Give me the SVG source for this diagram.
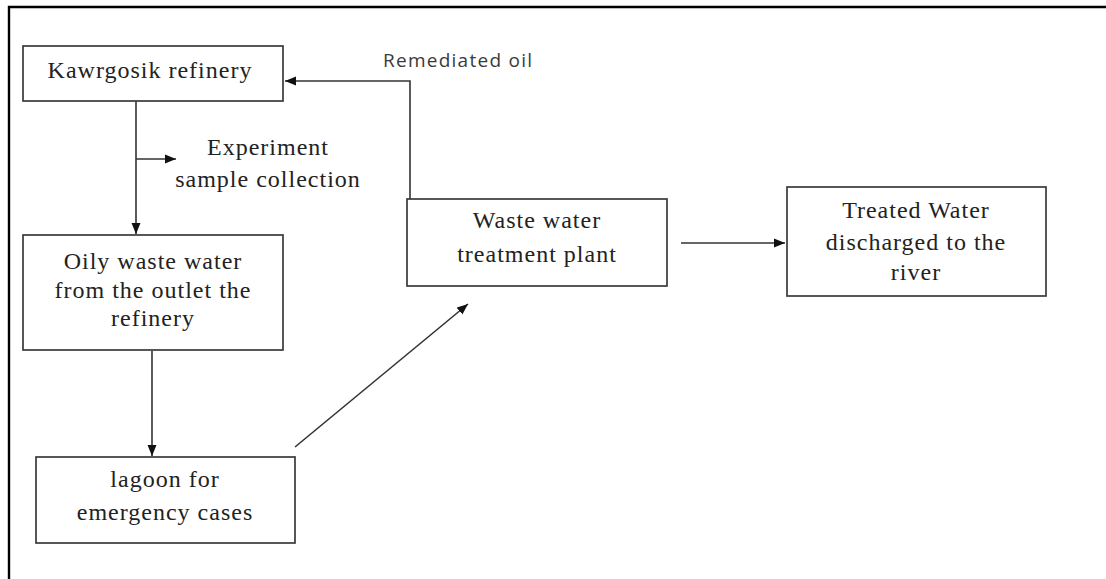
<svg xmlns="http://www.w3.org/2000/svg" width="1106" height="579" viewBox="0 0 1106 579">
<defs>
<style>
.box{fill:#fff;stroke:#3a3a3a;stroke-width:1.7}
.lbl{font-family:"Liberation Serif","Times New Roman",serif;font-size:24px;fill:#222;text-anchor:middle;letter-spacing:1px}
.con{fill:none;stroke:#333;stroke-width:1.6}
.note{font-family:"Open Sans","Liberation Sans",Arial,sans-serif;font-size:19px;fill:#3a3a3a}
</style>
<marker id="ah" viewBox="0 0 11 10" refX="11" refY="5" markerWidth="11" markerHeight="10" markerUnits="userSpaceOnUse" orient="auto">
<path d="M0,0.5 L11,5 L0,9.5 Z" fill="#111"/>
</marker>
</defs>
<rect width="1106" height="579" fill="#fff"/>
<g id="frame">
<path d="M9,579 L9,7 L1106,7" fill="none" stroke="#000" stroke-width="2.4"/>
</g>
<g id="connectors">
<path class="con" d="M410,199 L410,81 L285,81" marker-end="url(#ah)"/>
<path class="con" d="M136,101 L136,234" marker-end="url(#ah)"/>
<path class="con" d="M136,159 L176,159" marker-end="url(#ah)"/>
<path class="con" d="M152,351 L152,456" marker-end="url(#ah)"/>
<path class="con" d="M295,447 L468,304" marker-end="url(#ah)"/>
<path class="con" d="M681,243 L785,243" marker-end="url(#ah)"/>
</g>
<g id="n-refinery">
<rect class="box" x="23" y="46" width="260" height="55"/>
<text class="lbl" x="150" y="78">Kawrgosik refinery</text>
</g>
<g id="n-experiment">
<text class="lbl" x="268" y="155">Experiment</text>
<text class="lbl" x="268" y="187">sample collection</text>
</g>
<g id="n-remediated">
<text class="note" x="383" y="67" textLength="149" lengthAdjust="spacing">Remediated oil</text>
</g>
<g id="n-oily">
<rect class="box" x="23" y="235" width="260" height="115"/>
<text class="lbl" x="153" y="269">Oily waste water</text>
<text class="lbl" x="153" y="298">from the outlet the</text>
<text class="lbl" x="153" y="326">refinery</text>
</g>
<g id="n-lagoon">
<rect class="box" x="36" y="457" width="259" height="86"/>
<text class="lbl" x="165" y="487">lagoon for</text>
<text class="lbl" x="165" y="520">emergency cases</text>
</g>
<g id="n-wwtp">
<rect class="box" x="407" y="199" width="260" height="87"/>
<text class="lbl" x="537" y="228">Waste water</text>
<text class="lbl" x="537" y="262">treatment plant</text>
</g>
<g id="n-treated">
<rect class="box" x="787" y="187" width="259" height="109"/>
<text class="lbl" x="916" y="218">Treated Water</text>
<text class="lbl" x="916" y="250">discharged to the</text>
<text class="lbl" x="916" y="280">river</text>
</g>
</svg>
